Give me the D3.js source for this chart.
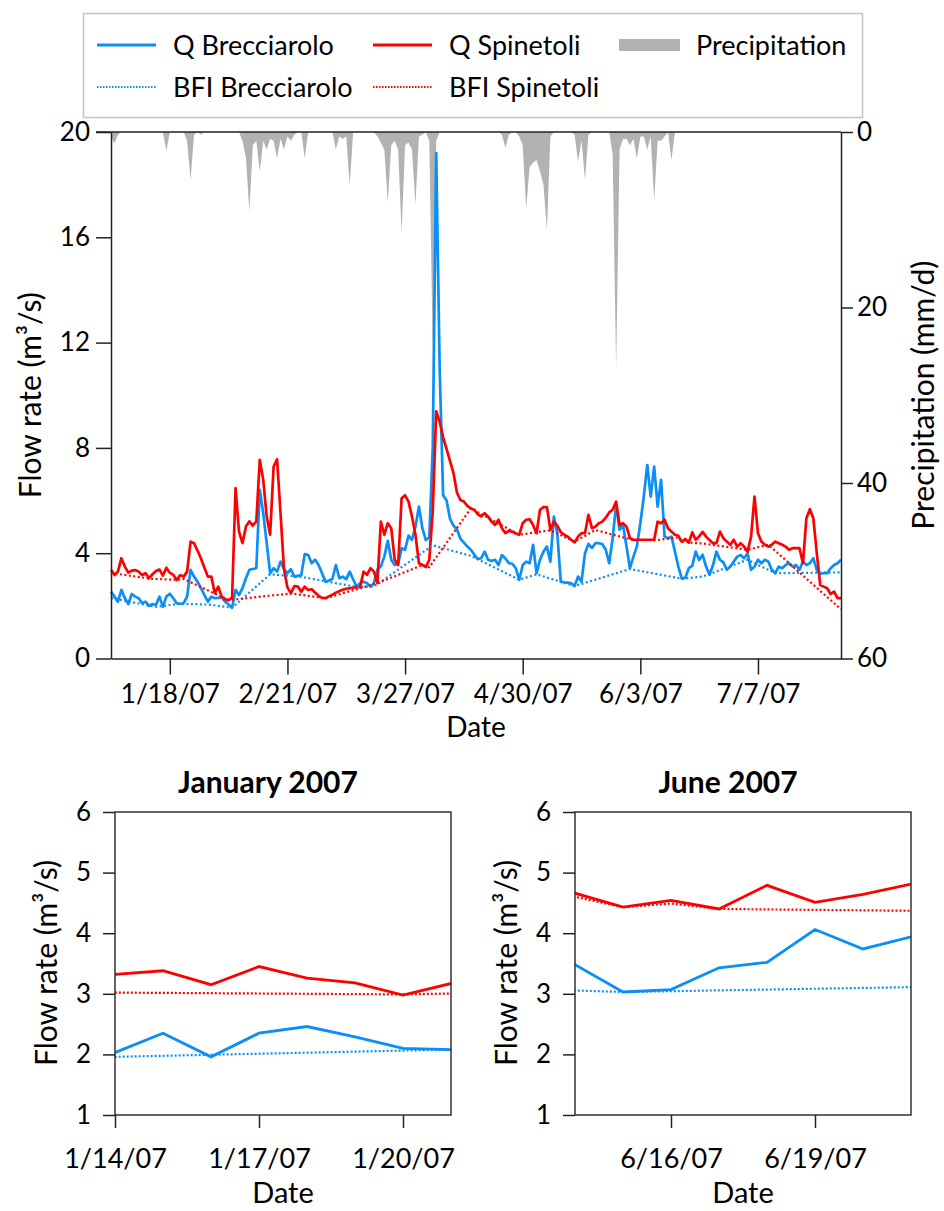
<!DOCTYPE html>
<html><head><meta charset="utf-8">
<script src="https://cdn.jsdelivr.net/npm/d3@7"></script>
<style>
body{margin:0;background:#fff;}
svg{display:block;font-family:Lato,"Open Sans",sans-serif;}
</style></head><body>
<svg id="chart" width="944" height="1211"></svg>
<script>
// ---------------- DATA ----------------
const startDate = "2007-01-01"; // first daily value (day 0)
const qBrecciarolo = [
2.54,2.35,2.16,2.61,2.29,2.07,2.45,2.35,2.29,2.10,
2.16,2.00,2.07,2.03,2.35,1.96,2.35,2.46,2.29,2.10,
2.08,2.10,2.35,3.37,3.11,2.92,2.67,2.41,2.16,2.35,
2.29,2.30,2.32,2.16,2.05,1.93,2.61,2.41,2.67,3.05,
3.37,3.40,3.43,6.41,5.52,4.38,3.24,3.43,3.30,3.68,
3.40,3.24,3.39,3.11,3.14,3.17,3.97,3.93,3.62,3.75,
3.55,3.24,2.92,2.96,3.02,3.55,3.05,3.11,3.01,3.30,
3.00,2.73,2.86,2.92,2.86,2.73,2.86,3.37,3.50,3.87,
4.47,3.75,3.55,3.60,4.19,4.13,4.67,4.51,5.01,5.77,
4.95,4.50,4.60,8.00,19.2,11.0,6.20,6.00,5.30,5.05,
4.90,4.55,4.40,4.25,4.13,3.95,3.78,3.81,4.06,3.75,
3.70,3.75,3.55,3.93,3.80,3.62,3.60,3.43,2.99,3.55,
3.68,3.62,4.32,3.24,3.75,4.06,4.25,3.68,5.39,4.76,
2.92,2.89,2.88,2.86,2.76,3.11,2.92,4.00,4.35,4.20,
4.38,4.38,4.35,4.13,3.62,4.57,5.84,4.89,5.07,4.25,
3.43,3.87,4.25,5.14,6.15,7.35,6.15,7.29,5.77,6.79,
4.63,4.57,4.63,4.06,3.48,3.03,3.07,3.43,3.52,4.06,
3.74,3.94,3.49,3.18,3.55,4.06,3.75,3.65,3.37,3.49,
3.68,3.87,3.93,3.81,4.00,3.37,3.49,3.75,3.62,3.75,
3.68,3.37,3.24,3.49,3.43,3.55,3.62,3.49,3.55,3.37,
3.68,3.55,3.62,3.81,3.37,3.21,3.24,3.24,3.43,3.55,
3.62,3.75];
const qSpinetoli = [
3.37,3.17,3.30,3.81,3.49,3.26,3.34,3.36,3.30,3.17,
3.24,3.05,3.20,3.32,3.38,3.15,3.45,3.26,3.18,2.98,
3.17,3.11,3.30,4.44,4.38,4.10,3.80,3.45,3.11,3.11,
2.48,2.73,2.35,2.25,2.22,2.30,6.47,4.82,4.38,5.01,
5.21,5.05,5.21,7.55,6.79,5.40,4.70,7.29,7.57,5.52,
3.40,2.70,2.48,2.75,2.73,2.54,2.73,2.60,2.63,2.50,
2.38,2.30,2.29,2.36,2.42,2.50,2.56,2.61,2.65,2.67,
2.69,2.71,2.71,3.30,3.18,3.43,3.30,2.86,5.20,4.70,
5.14,4.95,3.75,3.55,6.09,6.20,5.96,5.39,4.70,3.62,
3.56,3.47,3.75,5.60,9.39,9.00,8.40,7.95,7.50,7.04,
6.30,6.02,5.96,5.80,5.70,5.65,5.48,5.40,5.52,5.39,
5.20,5.07,5.27,4.95,4.76,4.85,4.82,4.75,4.70,5.14,
5.27,5.29,5.07,4.76,5.65,5.75,5.75,4.89,5.20,5.05,
4.80,4.70,4.63,4.51,4.41,4.63,4.76,4.76,5.46,4.95,
5.01,5.14,5.20,5.35,5.55,5.65,5.96,5.07,5.14,5.01,
4.57,4.51,4.51,4.51,4.51,4.51,4.51,4.51,5.20,5.14,
5.27,4.95,4.82,4.70,4.66,4.43,4.54,4.40,4.79,4.51,
4.64,4.81,4.63,4.50,4.38,4.38,4.82,4.57,4.44,4.32,
4.51,4.25,4.38,4.25,4.06,4.63,6.15,4.76,4.44,4.32,
4.25,4.32,4.44,4.38,4.32,4.25,4.13,4.19,4.19,4.19,
3.62,5.33,5.67,5.33,4.00,2.79,2.73,2.67,2.45,2.54,
2.29,2.29];
const precipitation = [
0.5,1.3,0.3,0,0,0,0,0,0,0,
0,0,0,0,0,0,2.2,0,0,0,
0,0,1.0,5.5,0.3,0,0.3,0,0,0,
0,0,0,0,0,0,0,0,1.0,3.0,
9.0,1.5,1.0,4.5,1.0,2.0,0.8,1.0,3.0,0.8,
2.0,0.5,1.0,0.3,0,0,3.0,0,0,0,
0,0,0,0,0,2.0,0.5,0.8,0.5,6.0,
0,0,0,0,0,0,0,0.5,1.2,2.0,
8.0,1.5,1.0,2.0,11.5,1.5,1.2,2.0,8.3,0.5,
0.3,0,1.0,25.0,1.0,0,0,0,0,0,
0,0,0,0,0,0,0,0,0,0,
0,0,0,0.3,1.8,0.3,0,0,0.5,1.5,
8.7,4.0,3.5,3.2,4.5,6.0,11.2,0.5,0,0,
0,0,0,0,0.3,3.4,1.0,5.5,0.3,0,
0,0,0,0,0,2.5,27.0,2.0,0.8,0.8,
1.5,0.8,3.0,0.5,0.5,2.0,0.5,7.8,1.0,1.0,
0.5,0,3.2,0,0,0,0,0,0,0,
0,0,0,0,0,0,0,0,0,0,
0,0,0,0,0,0,0,0,0,0,
0,0,0,0,0,0,0,0,0,0,
0,0,0,0,0,0,0,0,0,0,
0,0];
// Baseflow (BFI) separation lines: breakpoint day offsets and values
const bfiBrecciaroloDay   = [0,13,20,28,35,46,55,71,76,93,104,118,123,134,150,165,171,184,192,211];
const bfiBrecciaroloValue = [2.30,1.96,2.08,2.05,1.93,3.20,3.10,2.72,2.73,4.30,3.90,2.99,3.20,2.75,3.40,3.03,3.11,3.75,3.24,3.27];
const bfiSpinetoliDay   = [0,11,13,19,21,34,52,62,77,90,92,104,118,127,134,140,151,158,164,165,166,167,171,184,190,211];
const bfiSpinetoliValue = [3.25,3.04,3.02,2.99,3.02,2.22,2.47,2.29,2.86,3.55,3.47,5.70,4.70,4.87,4.44,4.88,4.50,4.50,4.60,4.43,4.49,4.40,4.37,4.13,4.32,1.87];
const mainTicks = ["2007-01-18","2007-02-21","2007-03-27","2007-04-30","2007-06-03","2007-07-07"];
const flowTicks = [0,4,8,12,16,20];
const precipTicks = [0,20,40,60];
const janDomain = ["2007-01-14","2007-01-21"];
const janTicks = ["2007-01-14","2007-01-17","2007-01-20"];
const junDomain = ["2007-06-14","2007-06-21"];
const junTicks = ["2007-06-16","2007-06-19"];
const insetFlowTicks = [1,2,3,4,5,6];
const seriesNames = ["Q Brecciarolo","Q Spinetoli","Precipitation","BFI Brecciarolo","BFI Spinetoli"];

// ---------------- DRAW ----------------
const BLUE = "#0a8ef7", RED = "#ff0000", GRAY = "#b2b2b2", AX = "#222";
const FONT = "Lato,'Open Sans',sans-serif";
const parse = d3.utcParse("%Y-%m-%d");
const start = parse(startDate);
const dayDate = i => d3.utcDay.offset(start, i);
const fmt = d3.utcFormat("%-m/%-d/%y");

const qb = qBrecciarolo.map((v,i)=>({date:dayDate(i), v}));
const qs = qSpinetoli.map((v,i)=>({date:dayDate(i), v}));
const pr = precipitation.map((v,i)=>({date:dayDate(i), v}));
const bb = bfiBrecciaroloDay.map((d,i)=>({date:dayDate(d), v:bfiBrecciaroloValue[i]}));
const bs = bfiSpinetoliDay.map((d,i)=>({date:dayDate(d), v:bfiSpinetoliValue[i]}));

const svg = d3.select("#chart");

// ---- Legend ----
const lg = svg.append("g");
lg.append("rect").attr("x",83.5).attr("y",13.5).attr("width",779).attr("height",104)
  .attr("fill","#fff").attr("stroke","#c4c4c4").attr("stroke-width",1.5);
const legendItems = [
  {name:seriesNames[0], kind:"line", color:BLUE, dash:null, lx:97, ly:45},
  {name:seriesNames[1], kind:"line", color:RED, dash:null, lx:373, ly:45},
  {name:seriesNames[2], kind:"rect", color:GRAY, dash:null, lx:619, ly:45},
  {name:seriesNames[3], kind:"line", color:BLUE, dash:"1.5,1.5", lx:97, ly:87},
  {name:seriesNames[4], kind:"line", color:RED, dash:"1.5,1.5", lx:373, ly:87}
];
legendItems.forEach(it=>{
  if(it.kind==="line"){
    lg.append("line").attr("x1",it.lx).attr("x2",it.lx+59).attr("y1",it.ly).attr("y2",it.ly)
      .attr("stroke",it.color).attr("stroke-width",it.dash?2:3).attr("stroke-dasharray",it.dash);
  } else {
    lg.append("rect").attr("x",it.lx).attr("y",it.ly-6).attr("width",61).attr("height",12).attr("fill",it.color);
  }
  lg.append("text").attr("x",it.lx+(it.kind==="rect"?77:76)).attr("y",it.ly+10)
    .attr("font-size",27).text(it.name);
});

// ---- Main chart ----
const M = {l:111, r:841, t:132, b:658.5};
const x = d3.scaleUtc().domain([dayDate(0), dayDate(211)]).range([M.l, M.r]);
const y = d3.scaleLinear().domain([0,20]).range([M.b, M.t]);
const y2 = d3.scaleLinear().domain([0,60]).range([M.t, M.b]);
const main = svg.append("g");

main.append("path").datum(pr)
  .attr("d", d3.area().x(d=>x(d.date)).y0(M.t).y1(d=>y2(d.v)))
  .attr("fill",GRAY);

const line = d3.line().x(d=>x(d.date)).y(d=>y(d.v));
main.append("path").datum(qb).attr("d",line).attr("fill","none").attr("stroke",BLUE).attr("stroke-width",2.7).attr("stroke-linejoin","round");
main.append("path").datum(qs).attr("d",line).attr("fill","none").attr("stroke",RED).attr("stroke-width",2.7).attr("stroke-linejoin","round");
main.append("path").datum(bb).attr("d",line).attr("fill","none").attr("stroke",BLUE).attr("stroke-width",2.2).attr("stroke-dasharray","2,2.5");
main.append("path").datum(bs).attr("d",line).attr("fill","none").attr("stroke",RED).attr("stroke-width",2.2).attr("stroke-dasharray","2,2.5");

function styleAxis(g, fs){
  g.selectAll("path,line").attr("stroke",AX).attr("stroke-width",1.5);
  g.selectAll("text").attr("font-size",fs).attr("fill","#000").attr("font-family",FONT);
}
const gl = main.append("g").attr("transform",`translate(${M.l},0)`)
  .call(d3.axisLeft(y).tickValues(flowTicks).tickSize(15).tickSizeOuter(0).tickPadding(6));
styleAxis(gl,26);
const gr = main.append("g").attr("transform",`translate(${M.r},0)`)
  .call(d3.axisRight(y2).tickValues(precipTicks).tickSize(12).tickSizeOuter(0).tickPadding(4));
styleAxis(gr,26);
const gb = main.append("g").attr("transform",`translate(0,${M.b})`)
  .call(d3.axisBottom(x).tickValues(mainTicks.map(parse)).tickFormat(fmt).tickSize(16).tickSizeOuter(0));
styleAxis(gb,26);
gb.selectAll("text").attr("y",44).attr("dy",0);
main.append("line").attr("x1",M.l-15).attr("x2",M.r).attr("y1",M.t).attr("y2",M.t).attr("stroke",AX).attr("stroke-width",1.5);

main.append("text").attr("transform",`translate(41,${(M.t+M.b)/2}) rotate(-90)`)
  .attr("text-anchor","middle").attr("font-size",30).text("Flow rate (m³/s)");
main.append("text").attr("transform",`translate(934,${(M.t+M.b)/2}) rotate(-90)`)
  .attr("text-anchor","middle").attr("font-size",30).text("Precipitation (mm/d)");
main.append("text").attr("x",476).attr("y",737).attr("text-anchor","middle").attr("font-size",28).text("Date");

// ---- Inset panels ----
function panel(opt){
  const g = svg.append("g");
  const P = {l:opt.l, r:opt.l+336, t:812, b:1115};
  const xs = d3.scaleUtc().domain(opt.domain.map(parse)).range([P.l,P.r]);
  const ys = d3.scaleLinear().domain([1,6]).range([P.b,P.t]);
  const id = "clip"+opt.l;
  svg.append("clipPath").attr("id",id).append("rect").attr("x",P.l).attr("y",P.t).attr("width",P.r-P.l).attr("height",P.b-P.t);
  const ln = d3.line().x(d=>xs(d.date)).y(d=>ys(d.v));
  const cg = g.append("g").attr("clip-path",`url(#${id})`);
  cg.append("path").datum(qb).attr("d",ln).attr("fill","none").attr("stroke",BLUE).attr("stroke-width",2.8);
  cg.append("path").datum(qs).attr("d",ln).attr("fill","none").attr("stroke",RED).attr("stroke-width",2.8);
  cg.append("path").datum(bb).attr("d",ln).attr("fill","none").attr("stroke",BLUE).attr("stroke-width",2.2).attr("stroke-dasharray","2,2");
  cg.append("path").datum(bs).attr("d",ln).attr("fill","none").attr("stroke",RED).attr("stroke-width",2.2).attr("stroke-dasharray","2,2");
  g.append("rect").attr("x",P.l).attr("y",P.t).attr("width",P.r-P.l).attr("height",P.b-P.t)
    .attr("fill","none").attr("stroke","#333").attr("stroke-width",1.5);
  const al = g.append("g").attr("transform",`translate(${P.l},0)`)
    .call(d3.axisLeft(ys).tickValues(insetFlowTicks).tickFormat(d3.format("d")).tickSize(12).tickSizeOuter(0).tickPadding(12));
  styleAxis(al,26); al.select(".domain").remove();
  const ab = g.append("g").attr("transform",`translate(0,${P.b})`)
    .call(d3.axisBottom(xs).tickValues(opt.ticks.map(parse)).tickFormat(fmt).tickSize(13).tickSizeOuter(0));
  styleAxis(ab,27); ab.select(".domain").remove();
  ab.selectAll("text").attr("y",53).attr("dy",0);
  g.append("text").attr("x",opt.titleX).attr("y",793).attr("text-anchor","middle")
    .attr("font-size",30).attr("font-weight","bold").text(opt.title);
  g.append("text").attr("transform",`translate(${opt.yTitleX},963) rotate(-90)`)
    .attr("text-anchor","middle").attr("font-size",30).text("Flow rate (m³/s)");
  g.append("text").attr("x",opt.dateX).attr("y",1203).attr("text-anchor","middle").attr("font-size",29).text("Date");
}
panel({l:115, domain:janDomain, ticks:janTicks, title:"January 2007", titleX:268, yTitleX:57, dateX:283});
panel({l:575, domain:junDomain, ticks:junTicks, title:"June 2007", titleX:728, yTitleX:517, dateX:743});
</script></body></html>
